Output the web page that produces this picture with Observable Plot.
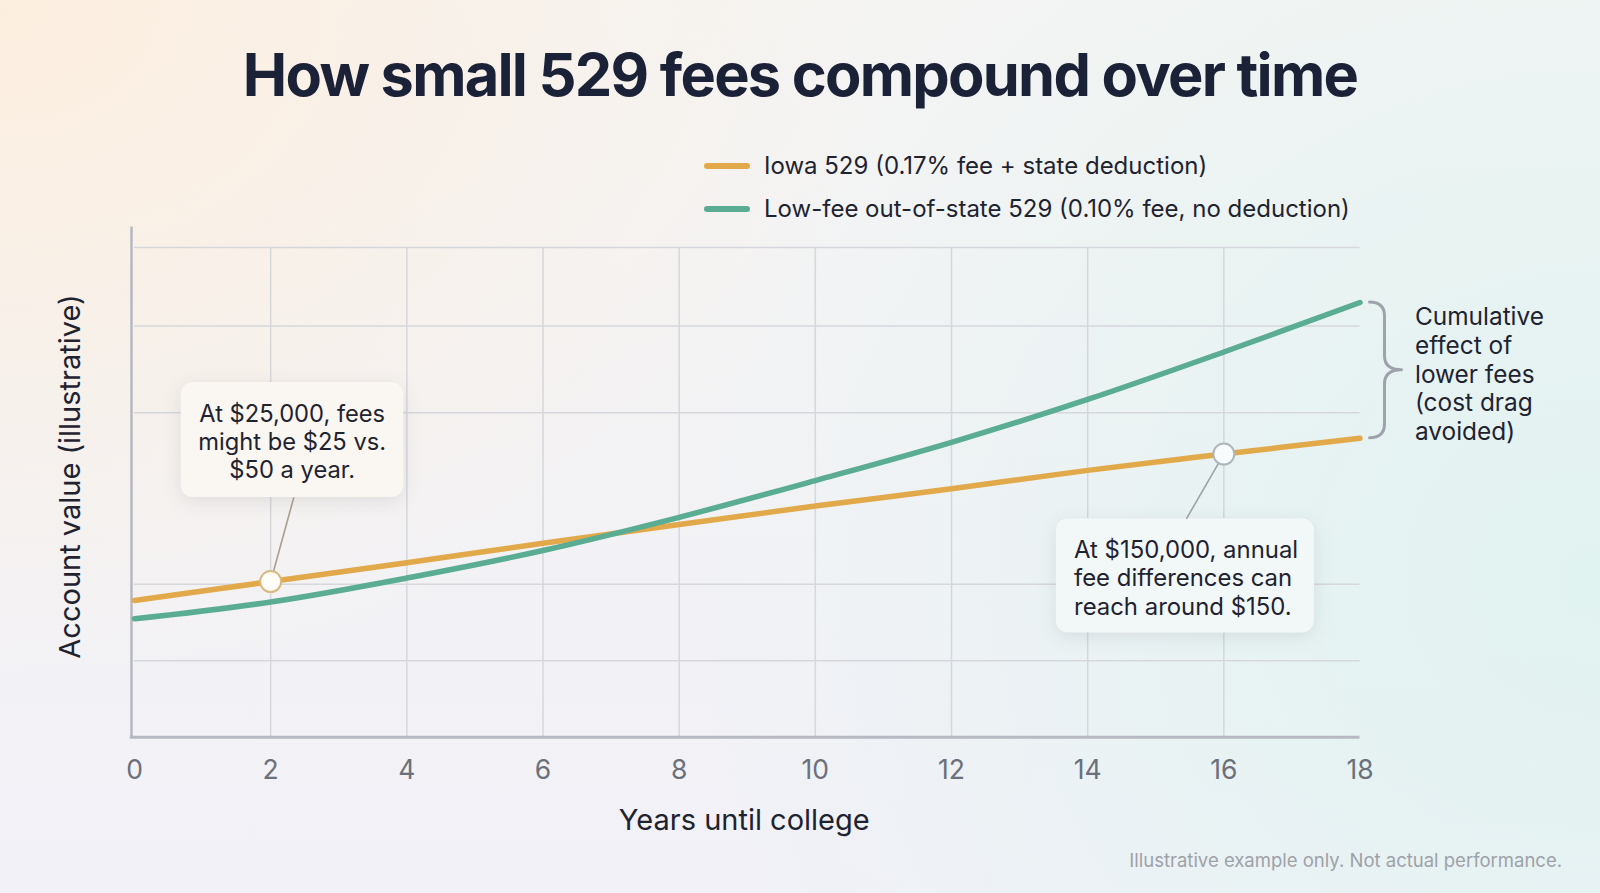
<!DOCTYPE html>
<html>
<head>
<meta charset="utf-8">
<script src="https://cdn.jsdelivr.net/npm/d3@7"></script>
<script src="https://cdn.jsdelivr.net/npm/@observablehq/plot@0.6"></script>
<style>
  html, body { margin: 0; padding: 0; }
  body { width: 1600px; height: 893px; overflow: hidden; font-family: Inter, "Noto Sans", sans-serif; }
  #page {
    position: relative; width: 1600px; height: 893px; overflow: hidden;
    background:
      radial-gradient(ellipse 900px 700px at 0% 0%, rgba(253,238,222,0.95) 0%, rgba(253,238,222,0) 100%),
      radial-gradient(ellipse 900px 850px at 100% 65%, rgba(225,243,241,1) 0%, rgba(225,243,241,0) 100%),
      linear-gradient(180deg, #f4f4f3 0%, #f1f1f7 100%);
  }
  #title {
    position: absolute; left: 0; top: 38px; width: 1600px; margin: 0;
    text-align: center; font-weight: 700; font-size: 59.5px; line-height: 72px;
    letter-spacing: -1.75px; color: #1b2238;
  }
  #legend { position: absolute; left: 704px; top: 144px; }
  .item { display: flex; align-items: center; height: 43px; font-size: 24px; color: #1f2330; }
  .swatch { width: 46px; height: 6px; border-radius: 3px; margin-right: 14px; }
  #chart { position: absolute; left: 0; top: 200px; }
  #caption { position: absolute; right: 38px; top: 849px; font-size: 18.5px; line-height: 22px; color: #9ea1a8; }
</style>
</head>
<body>
<div id="page">
  <h1 id="title">How small 529 fees compound over time</h1>
  <div id="legend"></div>
  <div id="chart"></div>
  <div id="caption">Illustrative example only. Not actual performance.</div>
</div>
<script>
// Years until college (x) and illustrative account values (y, arbitrary units)
const years = [0, 2, 4, 6, 8, 10, 12, 14, 16, 18];
const iowaValues = [26.8, 30.5, 34.2, 38.0, 41.7, 45.3, 48.7, 52.3, 55.5, 58.6];
const lowFeeValues = [23.2, 26.5, 31.2, 36.6, 43.1, 50.3, 57.8, 66.2, 75.5, 85.2];

const seriesNames = [
  "Iowa 529 (0.17% fee + state deduction)",
  "Low-fee out-of-state 529 (0.10% fee, no deduction)"
];
const seriesColors = ["#e2a94a", "#5aac92"];

// Horizontal reference lines and x tick labels
const gridValues = [15, 30, 63.6, 80.6, 96];
const xTickValues = [0, 2, 4, 6, 8, 10, 12, 14, 16, 18];

// Callout annotations: anchor point on the Iowa line, box extent and text position
const calloutSmall = {
  year: 2, value: iowaValues[1],
  x1: 0.686, x2: 3.956, y1: 47.0, y2: 69.5,
  leaderX: 2.34, leaderY: 47.0,
  textX: 2.316, textY: 58.1,
  label: "At $25,000, fees\nmight be $25 vs.\n$50 a year.",
  fill: "#faf6f1", ring: "#d8b97f", leader: "#a99c8c"
};
const calloutLarge = {
  year: 16, value: iowaValues[8],
  x1: 13.54, x2: 17.33, y1: 20.4, y2: 42.8,
  leaderX: 15.45, leaderY: 42.8,
  textX: 13.8, textY: 31.4,
  label: "At $150,000, annual\nfee differences can\nreach around $150.",
  fill: "#f2f7f8", ring: "#aeb5ba", leader: "#9ca2a8"
};
const bracketLabel = "Cumulative\neffect of\nlower fees\n(cost drag\navoided)";

const xLabel = "Years until college";
const yLabel = "Account value (illustrative)";

// Long-format table for the two series
const lineData = [
  ...years.map((year, i) => ({year, value: iowaValues[i], series: seriesNames[0]})),
  ...years.map((year, i) => ({year, value: lowFeeValues[i], series: seriesNames[1]}))
];

// Legend above the chart
const legend = document.getElementById("legend");
seriesNames.forEach((name, i) => {
  const row = document.createElement("div");
  row.className = "item";
  const sw = document.createElement("span");
  sw.className = "swatch";
  sw.style.background = seriesColors[i];
  row.appendChild(sw);
  row.appendChild(document.createTextNode(name));
  legend.appendChild(row);
});

const gridColor = "#d5d7dd";
const axisColor = "#b6b9c1";
const textColor = "#1f2330";
const last = years.length - 1;

const plot = Plot.plot({
  width: 1600,
  height: 640,
  marginTop: 26.5,
  marginBottom: 103.3,
  marginLeft: 134,
  marginRight: 240.5,
  x: {domain: [0, 18], axis: null},
  y: {domain: [0, 100], axis: null},
  color: {domain: seriesNames, range: seriesColors},
  style: {background: "transparent", overflow: "visible", fontFamily: "Inter, 'Noto Sans', sans-serif"},
  marks: [
    // grid
    Plot.ruleY(gridValues, {x1: 0, x2: 18, stroke: gridColor, strokeWidth: 1.5}),
    Plot.ruleX(xTickValues.slice(1, -1), {y1: 0, y2: d3.max(gridValues), stroke: gridColor, strokeWidth: 1.5}),
    // axis lines
    Plot.ruleX([0], {y1: 0, y2: 100, dx: -3, stroke: axisColor, strokeWidth: 2.5}),
    Plot.ruleY([0], {x1: 0, x2: 18, insetLeft: -4.2, stroke: axisColor, strokeWidth: 3}),
    // tick labels and axis titles
    Plot.text(xTickValues, {x: d => d, text: d => String(d), frameAnchor: "bottom", dy: 33, lineAnchor: "middle", fontSize: 26.5, fill: "#6c707a"}),
    Plot.text([xLabel], {text: d => d, frameAnchor: "bottom", dx: -3, dy: 84, lineAnchor: "middle", fontSize: 29, fill: textColor}),
    Plot.text([yLabel], {text: d => d, frameAnchor: "left", textAnchor: "middle", rotate: -90, dx: -63.5, dy: -5.6, lineAnchor: "middle", fontSize: 29, fill: textColor}),
    // callout boxes
    Plot.rect([calloutSmall, calloutLarge], {x1: "x1", x2: "x2", y1: "y1", y2: "y2", rx: 12, fill: d => d.fill}),
    // leader lines
    Plot.link([calloutSmall], {x1: "year", y1: "value", x2: "leaderX", y2: "leaderY", stroke: calloutSmall.leader, strokeWidth: 1.6}),
    Plot.link([calloutLarge], {x1: "year", y1: "value", x2: "leaderX", y2: "leaderY", stroke: calloutLarge.leader, strokeWidth: 1.6}),
    // series
    Plot.line(lineData, {x: "year", y: "value", z: "series", stroke: "series", strokeWidth: 5.5, curve: "catmull-rom", strokeLinecap: "round", strokeLinejoin: "round"}),
    // markers on the Iowa line
    Plot.dot([calloutSmall], {x: "year", y: "value", r: 10.5, fill: "#fffdf9", stroke: calloutSmall.ring, strokeWidth: 2}),
    Plot.dot([calloutLarge], {x: "year", y: "value", r: 10.5, fill: "#f8fbfb", stroke: calloutLarge.ring, strokeWidth: 2}),
    // callout text
    Plot.text([calloutSmall], {x: "textX", y: "textY", text: "label", textAnchor: "middle", lineAnchor: "middle", lineHeight: 1.19, fontSize: 23.7, fill: textColor}),
    Plot.text([calloutLarge], {x: "textX", y: "textY", text: "label", textAnchor: "start", lineAnchor: "middle", lineHeight: 1.19, fontSize: 23.9, fill: textColor}),
    // bracket label
    Plot.text([bracketLabel], {x: 18, y: (lowFeeValues[last] + iowaValues[last]) / 2, dx: 55, dy: 3, text: d => d, textAnchor: "start", lineAnchor: "middle", lineHeight: 1.17, fontSize: 24.4, fill: textColor})
  ]
});

// soft shadow under the callout boxes
d3.select(plot).selectAll("g[aria-label=rect] rect")
  .style("filter", "drop-shadow(0px 4px 9px rgba(40,40,60,0.10))");

// curly bracket spanning the gap between the two series at year 18
const sx = plot.scale("x"), sy = plot.scale("y");
const braceX = sx.apply(18);
const braceTop = sy.apply(lowFeeValues[last]);
const braceBottom = sy.apply(iowaValues[last]);
const braceMid = (braceTop + braceBottom) / 2;
const bx0 = braceX + 10, bxs = braceX + 25, bxt = braceX + 42, bk = 14;
const bracePath = `M${bx0},${braceTop} Q${bxs},${braceTop} ${bxs},${braceTop + bk} L${bxs},${braceMid - bk} Q${bxs},${braceMid} ${bxt},${braceMid} `
  + `Q${bxs},${braceMid} ${bxs},${braceMid + bk} L${bxs},${braceBottom - bk} Q${bxs},${braceBottom} ${bx0},${braceBottom}`;
d3.select(plot).append("path")
  .attr("d", bracePath)
  .attr("fill", "none")
  .attr("stroke", "#9ea2aa")
  .attr("stroke-width", 3)
  .attr("stroke-linecap", "round")
  .attr("stroke-linejoin", "round");

document.getElementById("chart").appendChild(plot);
</script>
</body>
</html>
